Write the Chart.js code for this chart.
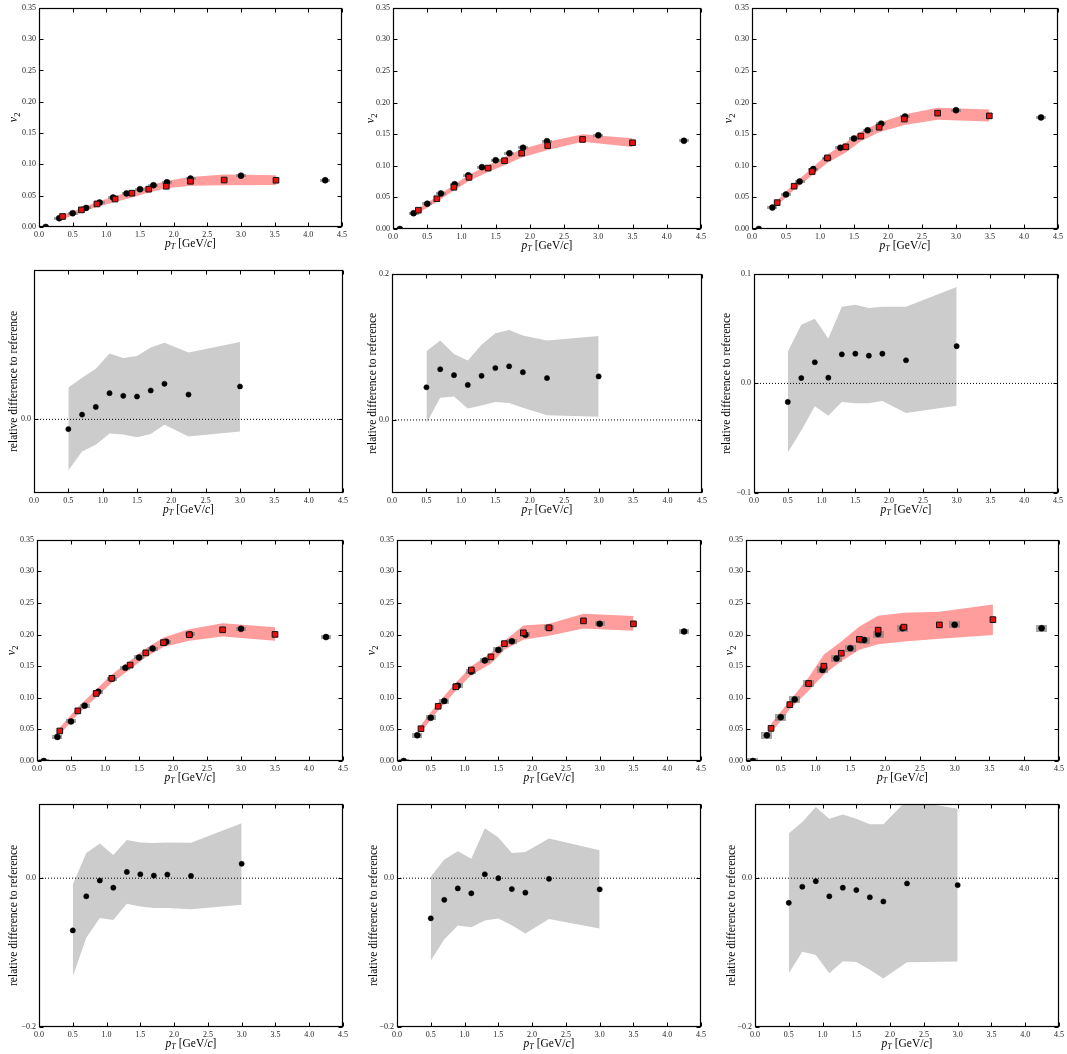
<!DOCTYPE html>
<html><head><meta charset="utf-8">
<script src="https://cdn.jsdelivr.net/npm/chart.js@4.4.1/dist/chart.umd.min.js"></script>
<style>
html,body{margin:0;padding:0;background:#fff;width:1067px;height:1054px;overflow:hidden;position:relative}
canvas{position:absolute}
</style></head><body>
<script>
// ---------------- data ----------------
const xTicks = [0, 0.5, 1, 1.5, 2, 2.5, 3, 3.5, 4, 4.5];
const v2Ticks = [0, 0.05, 0.1, 0.15, 0.2, 0.25, 0.3, 0.35];
const relTicksA = [0.0];
const relTicksB = [0.0, 0.2];
const relTicksC = [-0.1, 0.0, 0.1];
const relTicksD = [-0.2, 0.0];
const zeroLineX = [0, 4.5];

const dataX = [0.1, 0.3, 0.5, 0.7, 0.9, 1.1, 1.3, 1.5, 1.7, 1.9, 2.25, 3.0, 4.25];
const relX = [0.5, 0.7, 0.9, 1.1, 1.3, 1.5, 1.7, 1.9, 2.25, 3.0];

// v2 panel A (row 1, left)
const v2DataA = [0.0, 0.014, 0.022, 0.0305, 0.039, 0.047, 0.0536, 0.0604, 0.0667, 0.0715, 0.0773, 0.082, 0.0746];
const modelXA = [0.35, 0.63, 0.86, 1.13, 1.38, 1.63, 1.89, 2.25, 2.75, 3.52];
const modelA = [0.0168, 0.0273, 0.0368, 0.0447, 0.054, 0.0604, 0.065, 0.073, 0.075, 0.0746];
const bandLoA = [0.0125, 0.0235, 0.032, 0.040, 0.047, 0.055, 0.062, 0.0657, 0.0667, 0.067];
const bandHiA = [0.0195, 0.030, 0.040, 0.049, 0.058, 0.066, 0.0736, 0.080, 0.084, 0.0825];

// v2 panel B (row 1, middle)
const v2DataB = [0.0, 0.025, 0.040, 0.0563, 0.0708, 0.0849, 0.0979, 0.1089, 0.1198, 0.1286, 0.139, 0.1484, 0.1396];
const modelXB = [0.37, 0.64, 0.89, 1.11, 1.39, 1.63, 1.88, 2.26, 2.77, 3.5];
const modelB = [0.0297, 0.0479, 0.066, 0.0818, 0.0964, 0.108, 0.12, 0.132, 0.1417, 0.1365];
const bandLoB = [0.025, 0.043, 0.061, 0.076, 0.090, 0.101, 0.113, 0.125, 0.138, 0.1297];
const bandHiB = [0.033, 0.051, 0.070, 0.086, 0.101, 0.114, 0.126, 0.138, 0.150, 0.1437];

// v2 panel C (row 1, right)
const v2DataC = [0.0, 0.0339, 0.0547, 0.075, 0.0948, 0.112, 0.1286, 0.1432, 0.1562, 0.1667, 0.178, 0.188, 0.1766];
const modelXC = [0.37, 0.62, 0.885, 1.11, 1.38, 1.6, 1.87, 2.24, 2.73, 3.49];
const modelC = [0.0417, 0.0677, 0.091, 0.1125, 0.130, 0.147, 0.161, 0.174, 0.1833, 0.179];
const bandLoC = [0.037, 0.062, 0.085, 0.105, 0.121, 0.139, 0.153, 0.1646, 0.173, 0.170];
const bandHiC = [0.045, 0.072, 0.097, 0.118, 0.137, 0.154, 0.168, 0.181, 0.192, 0.189];

// v2 panel D (row 3, left)
const v2DataD = [0.0, 0.0381, 0.0626, 0.0876, 0.1095, 0.1304, 0.1476, 0.1638, 0.1779, 0.1888, 0.2003, 0.2092, 0.1961];
const modelXD = [0.335, 0.60, 0.87, 1.1, 1.37, 1.6, 1.86, 2.24, 2.73, 3.5];
const modelD = [0.0475, 0.0793, 0.1069, 0.1309, 0.1518, 0.1711, 0.1873, 0.1998, 0.2076, 0.2003];
const bandLoD = [0.042, 0.074, 0.101, 0.124, 0.145, 0.164, 0.1805, 0.1904, 0.197, 0.1904];
const bandHiD = [0.053, 0.085, 0.113, 0.137, 0.159, 0.178, 0.1956, 0.2086, 0.218, 0.2117];

// v2 panel E (row 3, middle)
const v2DataE = [0.0, 0.0407, 0.0683, 0.0949, 0.1189, 0.1413, 0.1591, 0.1758, 0.1893, 0.1998, 0.2107, 0.217, 0.205];
const modelXE = [0.355, 0.61, 0.87, 1.1, 1.39, 1.59, 1.87, 2.25, 2.76, 3.5];
const modelE = [0.0511, 0.0866, 0.1174, 0.144, 0.1648, 0.1857, 0.2029, 0.2107, 0.2217, 0.217];
const bandLoE = [0.046, 0.080, 0.111, 0.136, 0.154, 0.176, 0.192, 0.198, 0.2097, 0.206];
const bandHiE = [0.057, 0.092, 0.124, 0.150, 0.171, 0.190, 0.2143, 0.217, 0.233, 0.2295];

// v2 panel F (row 3, right)
const v2DataF = [0.0, 0.0407, 0.0694, 0.0975, 0.1226, 0.144, 0.1622, 0.1784, 0.1914, 0.2008, 0.2102, 0.2154, 0.2102];
const modelXF = [0.36, 0.63, 0.9, 1.12, 1.37, 1.63, 1.9, 2.27, 2.78, 3.55];
const modelF = [0.0516, 0.0892, 0.1226, 0.150, 0.1705, 0.1925, 0.2071, 0.2118, 0.2154, 0.2237];
const bandLoF = [0.0443, 0.082, 0.111, 0.137, 0.158, 0.176, 0.1846, 0.189, 0.1935, 0.1992];
const bandHiF = [0.059, 0.0955, 0.132, 0.1685, 0.189, 0.213, 0.230, 0.2347, 0.2363, 0.2478];

// relative difference panels
const relA = [-0.013, 0.0063, 0.0165, 0.0348, 0.0313, 0.0304, 0.0384, 0.0473, 0.033, 0.0437];
const relHiA = [0.0424, 0.0554, 0.0674, 0.0875, 0.0817, 0.0844, 0.0955, 0.1018, 0.0888, 0.103];
const relLoA = [-0.0679, -0.0429, -0.0339, -0.0188, -0.0201, -0.0237, -0.0196, -0.0071, -0.0228, -0.016];

const relB = [0.0447, 0.0694, 0.0613, 0.0479, 0.0604, 0.0711, 0.0734, 0.0653, 0.0573, 0.0595];
const relHiB = [0.094, 0.1087, 0.0904, 0.0814, 0.1029, 0.1186, 0.123, 0.1154, 0.1087, 0.115];
const relLoB = [-0.0045, 0.0304, 0.0322, 0.0157, 0.0197, 0.0246, 0.0233, 0.0166, 0.0063, 0.0045];

const relC = [-0.0169, 0.0049, 0.0193, 0.0052, 0.0265, 0.0271, 0.0253, 0.0271, 0.0211, 0.034];
const relHiC = [0.0289, 0.0535, 0.0589, 0.0409, 0.07, 0.0718, 0.0688, 0.07, 0.07, 0.088];
const relLoC = [-0.0631, -0.043, -0.0208, -0.0295, -0.0169, -0.0181, -0.0181, -0.016, -0.0271, -0.0205];

const relD = [-0.0702, -0.0243, -0.0031, -0.0128, 0.0084, 0.0053, 0.0035, 0.0049, 0.0031, 0.0194];
const relHiD = [-0.0084, 0.034, 0.0468, 0.0313, 0.0512, 0.0481, 0.0472, 0.0481, 0.0477, 0.0737];
const relLoD = [-0.132, -0.0799, -0.0534, -0.0561, -0.0344, -0.038, -0.0402, -0.0402, -0.0419, -0.0358];

const relE = [-0.0539, -0.0291, -0.0137, -0.0203, 0.0053, 0.0, -0.0146, -0.0194, -0.0009, -0.015];
const relHiE = [0.0018, 0.0252, 0.0362, 0.026, 0.0671, 0.0547, 0.034, 0.0353, 0.0534, 0.0375];
const relLoE = [-0.1108, -0.0821, -0.0636, -0.0658, -0.057, -0.0543, -0.0631, -0.0742, -0.0547, -0.0675];

const relF = [-0.0331, -0.0115, -0.004, -0.0243, -0.0128, -0.0159, -0.0256, -0.0313, -0.0071, -0.0093];
const relHiF = [0.060, 0.0755, 0.0958, 0.0799, 0.0857, 0.0799, 0.0724, 0.0724, 0.105, 0.0932];
const relLoF = [-0.1276, -0.0989, -0.1033, -0.1276, -0.1117, -0.1126, -0.1232, -0.1347, -0.113, -0.1121];

// ---------------- layout ----------------
const PADL = 50, PADT = 5, PADR = 8, PADB = 30;
const FONT = '"Liberation Serif", "Times New Roman", serif';

const panels = [
  {kind:'v2', L:39, T:5, R:342, B:227, y:v2DataA, mx:modelXA, m:modelA, lo:bandLoA, hi:bandHiA, box:[10,3], yOff:-26},
  {kind:'v2', L:393, T:5, R:701, B:229, y:v2DataB, mx:modelXB, m:modelB, lo:bandLoB, hi:bandHiB, box:[10,3], yOff:-23},
  {kind:'v2', L:752, T:5, R:1058, B:229, y:v2DataC, mx:modelXC, m:modelC, lo:bandLoC, hi:bandHiC, box:[10,3], yOff:-24},
  {kind:'rel', L:34, T:267, R:343, B:493, y:relA, lo:relLoA, hi:relHiA, yMin:-0.098, yMax:0.199, ticks:relTicksA, yOff:-21},
  {kind:'rel', L:392, T:271, R:702, B:493, y:relB, lo:relLoB, hi:relHiB, yMin:-0.1, yMax:0.2, ticks:relTicksB, yOff:-20},
  {kind:'rel', L:754, T:271, R:1058, B:493, y:relC, lo:relLoC, hi:relHiC, yMin:-0.1, yMax:0.1, ticks:relTicksC, yOff:-28},
  {kind:'v2', L:37, T:537, R:343, B:761, y:v2DataD, mx:modelXD, m:modelD, lo:bandLoD, hi:bandHiD, box:[10,4], yOff:-26},
  {kind:'v2', L:397, T:537, R:701, B:761, y:v2DataE, mx:modelXE, m:modelE, lo:bandLoE, hi:bandHiE, box:[10,5], yOff:-26},
  {kind:'v2', L:746, T:537, R:1059, B:761, y:v2DataF, mx:modelXF, m:modelF, lo:bandLoF, hi:bandHiF, box:[11,7], yOff:-17},
  {kind:'rel', L:39, T:801, R:343, B:1027, y:relD, lo:relLoD, hi:relHiD, yMin:-0.2, yMax:0.1, ticks:relTicksD, yOff:-26},
  {kind:'rel', L:397, T:801, R:701, B:1027, y:relE, lo:relLoE, hi:relHiE, yMin:-0.2, yMax:0.1, ticks:relTicksD, yOff:-24},
  {kind:'rel', L:755, T:801, R:1059, B:1027, y:relF, lo:relLoF, hi:relHiF, yMin:-0.2, yMax:0.1, ticks:relTicksD, yOff:-24}
];

function boxStyle(w, h, c) {
  const cv = document.createElement('canvas');
  cv.width = w; cv.height = h;
  const g = cv.getContext('2d');
  g.fillStyle = c; g.fillRect(0, 0, w, h);
  return cv;
}

function drawRuns(ctx, runs, size, cx, cy, rot) {
  ctx.save();
  ctx.translate(cx, cy);
  if (rot) ctx.rotate(rot);
  ctx.fillStyle = '#000';
  ctx.textBaseline = 'alphabetic';
  ctx.textAlign = 'left';
  let total = 0;
  const ws = runs.map(r => {
    const fs = r.sub ? size * 0.7 : size;
    ctx.font = (r.it ? 'italic ' : '') + fs + 'px ' + FONT;
    const w = ctx.measureText(r.t).width;
    total += w;
    return w;
  });
  let x = -total / 2;
  runs.forEach((r, i) => {
    const fs = r.sub ? size * 0.7 : size;
    ctx.font = (r.it ? 'italic ' : '') + fs + 'px ' + FONT;
    ctx.fillText(r.t, x, size * 0.33 + (r.sub ? size * 0.22 : 0));
    x += ws[i];
  });
  ctx.restore();
}

const ptRuns = [{t:'p', it:true}, {t:'T', it:true, sub:true}, {t:' [GeV/'}, {t:'c', it:true}, {t:']'}];
const v2Runs = [{t:'v', it:true}, {t:'2', sub:true}];
const relRuns = [{t:'relative difference to reference'}];

const deco = {
  id: 'deco',
  afterDatasetsDraw(chart, args, opts) {
    const ctx = chart.ctx, a = chart.chartArea;
    const L = Math.round(a.left) + 0.5, T = Math.round(a.top) + 0.5;
    const R = Math.round(a.right) - 0.5, B = Math.round(a.bottom) - 0.5;
    ctx.save();
    ctx.strokeStyle = '#000';
    ctx.lineWidth = 1;
    ctx.beginPath();
    const tl = 4;
    chart.scales.x.ticks.forEach(t => {
      const px = Math.round(chart.scales.x.getPixelForValue(t.value)) + 0.5;
      ctx.moveTo(px, B); ctx.lineTo(px, B - tl);
      ctx.moveTo(px, T); ctx.lineTo(px, T + tl);
    });
    chart.scales.y.ticks.forEach(t => {
      const py = Math.round(chart.scales.y.getPixelForValue(t.value)) + 0.5;
      ctx.moveTo(L, py); ctx.lineTo(L + tl, py);
      ctx.moveTo(R, py); ctx.lineTo(R - tl, py);
    });
    ctx.stroke();
    ctx.lineWidth = 1.2;
    ctx.strokeRect(L, T, R - L, B - T);
    ctx.restore();
  },
  afterDraw(chart, args, opts) {
    const ctx = chart.ctx, a = chart.chartArea;
    drawRuns(ctx, ptRuns, 11.5, (a.left + a.right) / 2, a.bottom + 16, 0);
    const cy = (a.top + a.bottom) / 2;
    if (opts.kind === 'v2') drawRuns(ctx, v2Runs, 12, a.left + opts.yOff, cy, -Math.PI / 2);
    else drawRuns(ctx, relRuns, 11.5, a.left + opts.yOff, cy, -Math.PI / 2);
  }
};

const fmtMinus = s => s.replace('-', '\u2212');

function makeChart(p) {
  const cv = document.createElement('canvas');
  const W = p.R - p.L + PADL + PADR, H = p.B - p.T + PADT + PADB;
  cv.width = W; cv.height = H;
  cv.style.left = (p.L - PADL) + 'px';
  cv.style.top = (p.T - PADT) + 'px';
  cv.style.width = W + 'px'; cv.style.height = H + 'px';
  document.body.appendChild(cv);

  let datasets, yScale;
  const tickFont = {family: FONT, size: 8};
  if (p.kind === 'v2') {
    datasets = [
      {data: p.mx.map((x, i) => ({x, y: p.hi[i]})), borderColor: 'transparent', borderWidth: 0, pointRadius: 0,
       fill: '+1', backgroundColor: '#ff9c9c', order: 5, clip: 0, tension: 0},
      {data: p.mx.map((x, i) => ({x, y: p.lo[i]})), borderColor: 'transparent', borderWidth: 0, pointRadius: 0,
       fill: false, order: 4, clip: 0, tension: 0},
      {data: dataX.map((x, i) => ({x, y: p.y[i]})), showLine: false, pointStyle: boxStyle(p.box[0], p.box[1], 'rgba(130,130,130,0.7)'),
       pointRadius: 5, order: 2},
      {data: dataX.map((x, i) => ({x, y: p.y[i]})), showLine: false, pointStyle: 'circle', pointRadius: 3,
       pointBackgroundColor: '#000', pointBorderColor: '#000', pointBorderWidth: 0.5, order: 1},
      {data: p.mx.map((x, i) => ({x, y: p.m[i]})), showLine: false, pointStyle: 'rect', pointRadius: 4,
       pointBackgroundColor: '#e81010', pointBorderColor: '#111', pointBorderWidth: 1, order: 0}
    ];
    yScale = {type: 'linear', min: 0, max: 0.35,
      afterBuildTicks: s => { s.ticks = v2Ticks.map(v => ({value: v})); },
      ticks: {font: tickFont, color: '#222', padding: 3, callback: v => v.toFixed(2)}};
  } else {
    datasets = [
      {data: relX.map((x, i) => ({x, y: p.hi[i]})), borderColor: 'transparent', borderWidth: 0, pointRadius: 0,
       fill: '+1', backgroundColor: '#cccccc', order: 5, clip: 0, tension: 0},
      {data: relX.map((x, i) => ({x, y: p.lo[i]})), borderColor: 'transparent', borderWidth: 0, pointRadius: 0,
       fill: false, order: 4, clip: 0, tension: 0},
      {data: zeroLineX.map(x => ({x, y: 0})), borderColor: '#000', borderWidth: 1, borderDash: [1, 2],
       pointRadius: 0, fill: false, order: 1, clip: 0},
      {data: relX.map((x, i) => ({x, y: p.y[i]})), showLine: false, pointStyle: 'circle', pointRadius: 2.6,
       pointBackgroundColor: '#000', pointBorderColor: '#000', pointBorderWidth: 0.5, order: 0}
    ];
    const tk = p.ticks;
    yScale = {type: 'linear', min: p.yMin, max: p.yMax,
      afterBuildTicks: s => { s.ticks = tk.map(v => ({value: v})); },
      ticks: {font: tickFont, color: '#222', padding: 3, callback: v => fmtMinus(v.toFixed(1))}};
  }
  yScale.grid = {display: false, drawTicks: false};
  yScale.border = {display: false};
  yScale.afterFit = s => { s.width = PADL; };

  new Chart(cv.getContext('2d'), {
    type: 'line',
    data: {datasets},
    options: {
      responsive: false, devicePixelRatio: 1, animation: false,
      events: [],
      layout: {autoPadding: false, padding: {left: 0, top: PADT, right: PADR, bottom: 0}},
      plugins: {legend: {display: false}, tooltip: {enabled: false}, deco: {kind: p.kind, yOff: p.yOff}},
      scales: {
        x: {type: 'linear', min: 0, max: 4.5,
          afterBuildTicks: s => { s.ticks = xTicks.map(v => ({value: v})); },
          afterFit: s => { s.height = PADB; },
          grid: {display: false, drawTicks: false}, border: {display: false},
          ticks: {font: tickFont, color: '#222', padding: 3, maxRotation: 0, autoSkip: false, callback: v => v.toFixed(1)}},
        y: yScale
      }
    },
    plugins: [deco]
  });
}

panels.forEach(makeChart);
</script>
</body></html>
